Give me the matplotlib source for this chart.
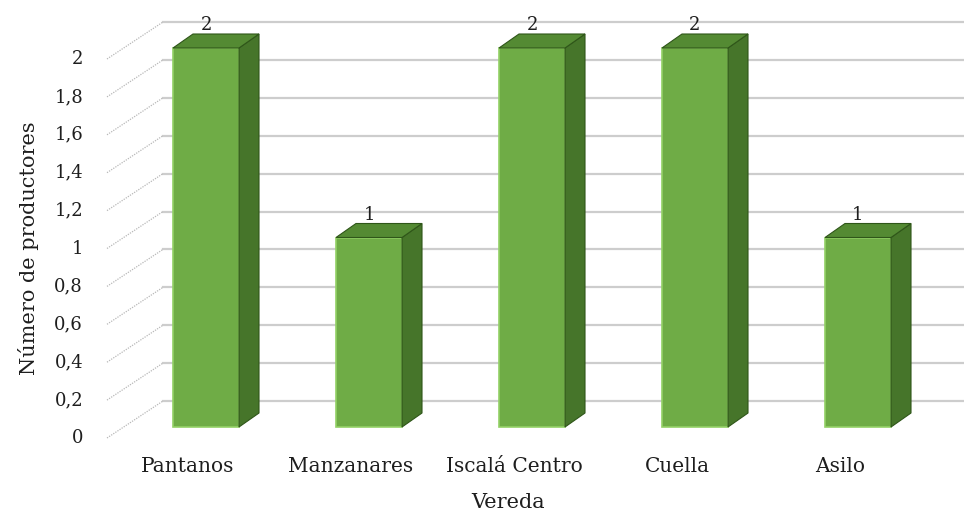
import numpy as np
import matplotlib.pyplot as plt
from matplotlib.patches import Polygon

veredas = ['Pantanos', 'Manzanares', 'Iscalá Centro', 'Cuella', 'Asilo']
productores = [2, 1, 2, 2, 1]
yticks = [0, 0.2, 0.4, 0.6, 0.8, 1, 1.2, 1.4, 1.6, 1.8, 2]
ytick_labels = ['0', '0,2', '0,4', '0,6', '0,8', '1', '1,2', '1,4', '1,6', '1,8', '2']

# pixel scale of the fake 3D layout
PX_X = 163.0   # px per category
PX_Y = 189.5   # px per unit


def dx(p):
    return p / PX_X


def dy(p):
    return p / PX_Y


front = '#6fac46'
side = '#46752a'
top = '#548a33'
grid_c = '#cdcdcd'
txt = '#1e1e1e'
font = 'DejaVu Serif'

fig = plt.figure(figsize=(9.64, 5.12), dpi=100)
ax = fig.add_axes([0, 0, 1, 1])
ax.axis('off')
ax.set_xlim(-dx(206), dx(964 - 206))
ax.set_ylim(-dy(85), dy(512 - 85))

x = np.arange(len(veredas))
w = dx(66)
bx, by = dx(20), dy(14)        # bar depth
wall_x, wall_y = dx(-43), dy(26)  # back wall left edge offset
floor_x, floor_y = dx(-99), dy(-11)  # front floor edge

# back wall gridlines + side wall diagonals
for v, lab in zip(yticks, ytick_labels):
    ax.plot([wall_x, ax.get_xlim()[1]], [v + wall_y, v + wall_y],
            color=grid_c, lw=1.6, zorder=1)
    ax.plot([floor_x, wall_x], [v + floor_y, v + wall_y],
            color='#b8b8b8', lw=0.9, ls=(0, (1, 1)), zorder=1)
    ax.text(dx(-123), v + floor_y, lab, ha='right', va='center',
            fontsize=13, family=font, color=txt)

# bars
ax.bar(x, productores, width=w, color=front, edgecolor='#93d166',
       linewidth=1.2, zorder=3)
for xi, v in zip(x, productores):
    r = xi + w / 2
    l = xi - w / 2
    ax.add_patch(Polygon([(r, 0), (r + bx, by), (r + bx, v + by), (r, v)],
                         closed=True, facecolor=side, edgecolor='#2f5619',
                         lw=0.8, zorder=3))
    ax.add_patch(Polygon([(l, v), (r, v), (r + bx, v + by), (l + bx, v + by)],
                         closed=True, facecolor=top, edgecolor='#2f5619',
                         lw=0.8, zorder=3))
    ax.text(xi, v + dy(14), f'{v}', ha='center', va='bottom',
            fontsize=13, family=font, color=txt, zorder=4)

for xi, lab in zip(x, veredas):
    ax.text(xi - dx(18), dy(-40), lab, ha='center', va='center',
            fontsize=14.5, family=font, color=txt)

ax.text(dx(28 - 206), dy(427 - 248), 'Número de productores', rotation=90,
        ha='center', va='center', fontsize=15, family=font, color=txt)
ax.text(dx(508 - 206), dy(427 - 502), 'Vereda', ha='center', va='center',
        fontsize=15, family=font, color=txt)

fig.savefig('out.png', dpi=100)
